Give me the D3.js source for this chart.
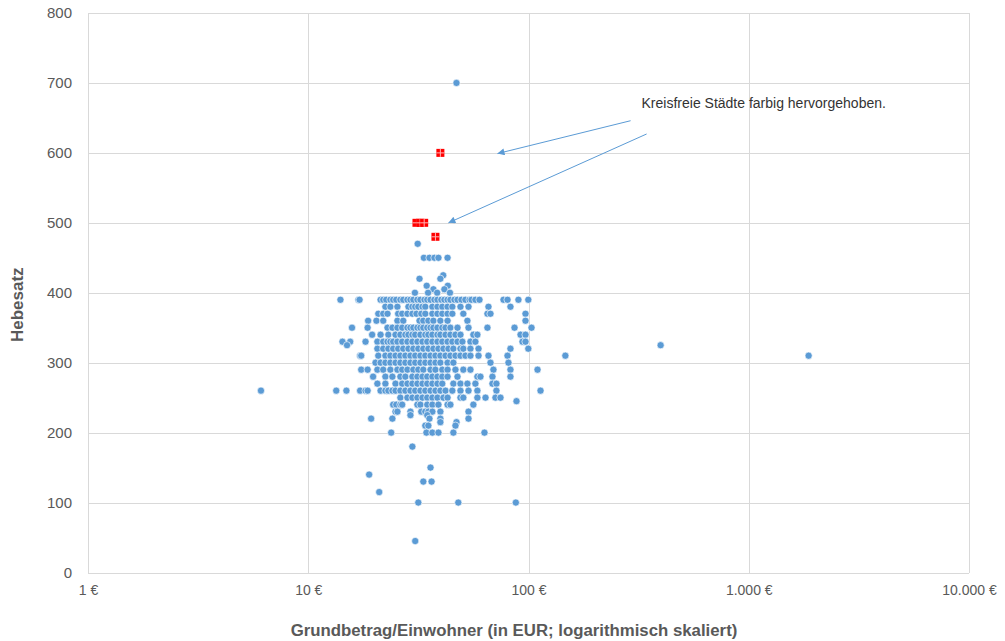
<!DOCTYPE html>
<html><head><meta charset="utf-8">
<script src="https://cdn.jsdelivr.net/npm/d3@7"></script>
<style>body{margin:0;background:#fff}</style>
</head><body>
<svg id="c" width="1005" height="641"></svg>
<script>
// ---- axis ticks ----
const yTicks = [0, 100, 200, 300, 400, 500, 600, 700, 800];
const xTicks = [1, 10, 100, 1000, 10000];
const xTickLabels = ["1 €", "10 €", "100 €", "1.000 €", "10.000 €"];

// ---- Gemeinden: Grundbetrag/Einwohner (EUR) per Hebesatz level ----
const r700 = [47.1];
const r470 = [31.4];
const r450 = [33.5, 35.5, 37.4, 39.0, 42.9];
const r425 = [41.0];
const r420 = [32.0, 39.8];
const r410 = [34.5, 43.0];
const r405 = [37.0, 41.5];
const r400 = [30.5, 35.0, 38.5, 44.0];
const r390 = [14.0, 16.9, 17.1, 21.3, 21.9, 22.6, 23.6, 24.3, 25.1, 26.2, 27.0, 28.2, 29.1, 30.0, 31.3, 32.3, 33.7, 34.7, 35.9, 37.4, 38.6, 40.2, 41.5, 42.9, 44.2, 46.1, 47.6, 49.6, 51.7, 54.0, 55.1, 57.4, 59.9, 77.0, 80.3, 90.0, 99.8];
const r380 = [22.4, 23.6, 25.4, 28.5, 29.7, 30.6, 31.6, 33.0, 34.0, 36.6, 38.6, 40.6, 42.9, 45.1, 49.1, 53.4, 65.8, 82.8];
const r370 = [20.8, 21.9, 22.9, 25.6, 26.7, 28.2, 29.7, 31.0, 32.6, 34.0, 36.6, 38.6, 40.6, 42.9, 45.1, 50.6, 65.1, 67.2, 96.9];
const r360 = [18.7, 20.4, 21.9, 25.4, 27.0, 32.0, 33.3, 35.1, 37.0, 39.8, 42.9, 52.8, 96.9];
const r350 = [15.8, 18.6, 22.9, 24.1, 25.4, 26.7, 28.2, 29.1, 30.0, 31.3, 32.3, 33.3, 34.7, 35.9, 37.0, 38.6, 40.6, 42.0, 44.2, 47.6, 53.4, 65.1, 86.4, 103.2];
const r340 = [19.5, 21.3, 23.1, 24.9, 26.2, 27.6, 28.5, 29.7, 30.6, 32.3, 34.0, 35.1, 36.6, 38.6, 39.8, 42.0, 44.2, 46.6, 49.1, 56.2, 58.6, 92.0, 96.9];
const r330 = [14.3, 15.5, 18.2, 20.6, 21.9, 22.9, 23.6, 24.3, 25.4, 26.7, 28.2, 29.7, 31.3, 33.0, 34.7, 36.6, 38.6, 40.6, 42.9, 45.1, 47.6, 50.1, 54.5, 57.4, 93.9, 96.9];
const r325 = [15.0, 398];
const r320 = [20.6, 21.9, 23.1, 24.3, 25.6, 27.0, 28.5, 30.0, 31.6, 33.3, 35.1, 37.0, 39.0, 41.1, 43.3, 45.6, 49.1, 50.6, 54.5, 59.3, 82.8, 99.8];
const r310 = [17.2, 17.4, 20.8, 22.4, 23.6, 24.9, 26.2, 27.6, 29.1, 30.6, 32.3, 34.0, 35.9, 37.8, 39.8, 42.0, 44.2, 46.6, 49.1, 51.7, 54.5, 59.3, 65.8, 80.3, 147, 1870];
const r300 = [20.2, 21.3, 22.4, 23.6, 24.9, 26.2, 27.6, 29.1, 30.6, 32.3, 34.0, 35.9, 37.8, 39.8, 42.9, 45.6, 67.2, 81.1];
const r290 = [17.4, 18.6, 20.6, 21.9, 23.6, 25.4, 26.7, 28.2, 30.0, 31.6, 33.3, 35.9, 37.8, 40.6, 42.9, 46.6, 50.6, 54.5, 69.3, 82.8, 109.9];
const r280 = [19.7, 22.4, 24.1, 26.2, 27.6, 29.7, 31.3, 33.0, 34.7, 36.6, 38.6, 40.6, 42.9, 47.6, 58.6, 60.5, 68.6, 82.8];
const r270 = [20.6, 22.4, 24.9, 26.7, 28.2, 29.7, 31.3, 33.0, 34.7, 36.6, 38.6, 40.6, 45.6, 49.1, 52.8, 57.4, 68.6, 71.5];
const r260 = [6.1, 13.4, 14.9, 17.2, 18.2, 18.6, 21.3, 22.4, 23.1, 24.1, 24.9, 26.2, 27.6, 29.1, 30.6, 32.3, 34.0, 35.9, 37.8, 39.8, 42.0, 45.1, 49.1, 53.4, 58.6, 71.5, 113.4];
const r250 = [26.2, 28.2, 29.7, 31.3, 33.0, 34.7, 36.6, 38.6, 41.1, 42.9, 49.1, 50.6, 58.6, 63.8, 70.8, 74.6];
const r245 = [88.2];
const r240 = [24.3, 25.1, 26.2, 26.7, 31.3, 32.3, 34.7, 36.6, 39.0, 42.9, 44.2, 56.2];
const r230 = [24.9, 25.4, 29.1, 32.6, 34.0, 35.1, 36.6, 39.8, 53.4];
const r225 = [29.1, 34.7];
const r220 = [19.3, 24.1, 35.5, 39.8, 53.4];
const r215 = [39.8, 47.1];
const r210 = [34.0, 35.1, 46.6];
const r200 = [23.8, 34.4, 36.6, 39.0, 45.6, 63.1];
const r180 = [29.7];
const r150 = [35.9];
const r140 = [18.9];
const r130 = [33.3, 36.3];
const r115 = [21.0];
const r100 = [31.6, 48.0, 87.6];
const r45 = [30.6];

// ---- Kreisfreie Städte (highlighted) ----
const kreisfreieX = [39.8, 31.0, 32.2, 33.6, 37.8];
const kreisfreieY = [600, 500, 500, 500, 480];

// ---- annotation ----
const noteText = "Kreisfreie Städte farbig hervorgehoben.";

const rows = [
  [700, r700], [470, r470], [450, r450], [425, r425], [420, r420], [410, r410], [405, r405], [400, r400],
  [390, r390], [380, r380], [370, r370], [360, r360], [350, r350], [340, r340], [330, r330], [325, r325],
  [320, r320], [310, r310], [300, r300], [290, r290], [280, r280], [270, r270], [260, r260], [250, r250],
  [245, r245], [240, r240], [230, r230], [225, r225], [220, r220], [215, r215], [210, r210], [200, r200],
  [180, r180], [150, r150], [140, r140], [130, r130], [115, r115], [100, r100], [45, r45]
];
const gemeinden = [];
rows.forEach(([h, xs]) => xs.forEach(v => gemeinden.push({ x: v, y: h })));
const kreisfreie = kreisfreieX.map((v, i) => ({ x: v, y: kreisfreieY[i] }));

const svg = d3.select("#c");
const L = 88, R = 969, T = 13, B = 572.5;
const x = d3.scaleLog().domain([1, 10000]).range([L, R]);
const y = d3.scaleLinear().domain([0, 800]).range([B, T]);
const grid = "#d9d9d9", txt = "#595959";
const ff = "Liberation Sans, Arial, sans-serif";

// horizontal grid + y labels
const gy = svg.append("g").attr("transform", `translate(${L},0)`)
  .call(d3.axisLeft(y).tickValues(yTicks).tickSize(-(R - L)).tickPadding(16).tickFormat(d3.format("d")));
gy.select(".domain").remove();
gy.selectAll("line").attr("stroke", grid).attr("stroke-width", 1).attr("shape-rendering", "crispEdges");
gy.selectAll("text").attr("fill", txt).attr("font-family", ff).attr("font-size", 15);

// vertical grid + x labels
const gx = svg.append("g").attr("transform", `translate(0,${B})`)
  .call(d3.axisBottom(x).tickValues(xTicks).tickSize(-(B - T)).tickPadding(13).tickFormat((d, i) => xTickLabels[i]));
gx.select(".domain").remove();
gx.selectAll("line").attr("stroke", grid).attr("stroke-width", 1).attr("shape-rendering", "crispEdges");
gx.selectAll("text").attr("fill", txt).attr("font-family", ff).attr("font-size", 14);

// points
svg.append("g").selectAll("circle").data(gemeinden).join("circle")
  .attr("cx", d => x(d.x)).attr("cy", d => y(d.y)).attr("r", 3.6)
  .attr("fill", "#5b9bd5").attr("stroke", "#ffffff").attr("stroke-opacity", 0.8).attr("stroke-width", 0.8);

// highlighted squares
const sq = svg.append("g").selectAll("g").data(kreisfreie).join("g")
  .attr("transform", d => `translate(${x(d.x)},${y(d.y)})`);
sq.append("rect").attr("x", -4).attr("y", -4).attr("width", 8).attr("height", 8).attr("fill", "#ff0000");
sq.append("path").attr("d", "M-4,0H4M0,-4V4").attr("stroke", "#ffb3b3").attr("stroke-width", 1);

// annotation
const ac = "#5b9bd5";
svg.append("defs").append("marker").attr("id", "ah").attr("viewBox", "0 0 10 10")
  .attr("refX", 10).attr("refY", 5).attr("markerWidth", 9).attr("markerHeight", 7)
  .attr("markerUnits", "userSpaceOnUse").attr("orient", "auto")
  .append("path").attr("d", "M0,0L10,5L0,10Z").attr("fill", ac);
const arrows = [
  { x1: 290.8, y1: 646, x2: 72.3, y2: 599 },
  { x1: 343.8, y1: 627, x2: 43.3, y2: 500 }
];
svg.append("g").selectAll("line").data(arrows).join("line")
  .attr("x1", d => x(d.x1)).attr("y1", d => y(d.y1)).attr("x2", d => x(d.x2)).attr("y2", d => y(d.y2))
  .attr("stroke", ac).attr("stroke-width", 1).attr("marker-end", "url(#ah)");
svg.append("text").attr("x", x(326)).attr("y", y(664)).text(noteText)
  .attr("font-family", ff).attr("font-size", 14).attr("fill", "#333");

// axis titles
svg.append("text").attr("transform", `translate(23,${(T + B) / 2 + 12}) rotate(-90)`).attr("text-anchor", "middle")
  .attr("font-family", ff).attr("font-weight", "bold").attr("font-size", 17)
  .attr("fill", txt).text("Hebesatz");
svg.append("text").attr("x", 514).attr("y", 636).attr("text-anchor", "middle")
  .attr("font-family", ff).attr("font-weight", "bold").attr("font-size", 16.8)
  .attr("fill", txt).text("Grundbetrag/Einwohner (in EUR; logarithmisch skaliert)");
</script>
</body></html>
